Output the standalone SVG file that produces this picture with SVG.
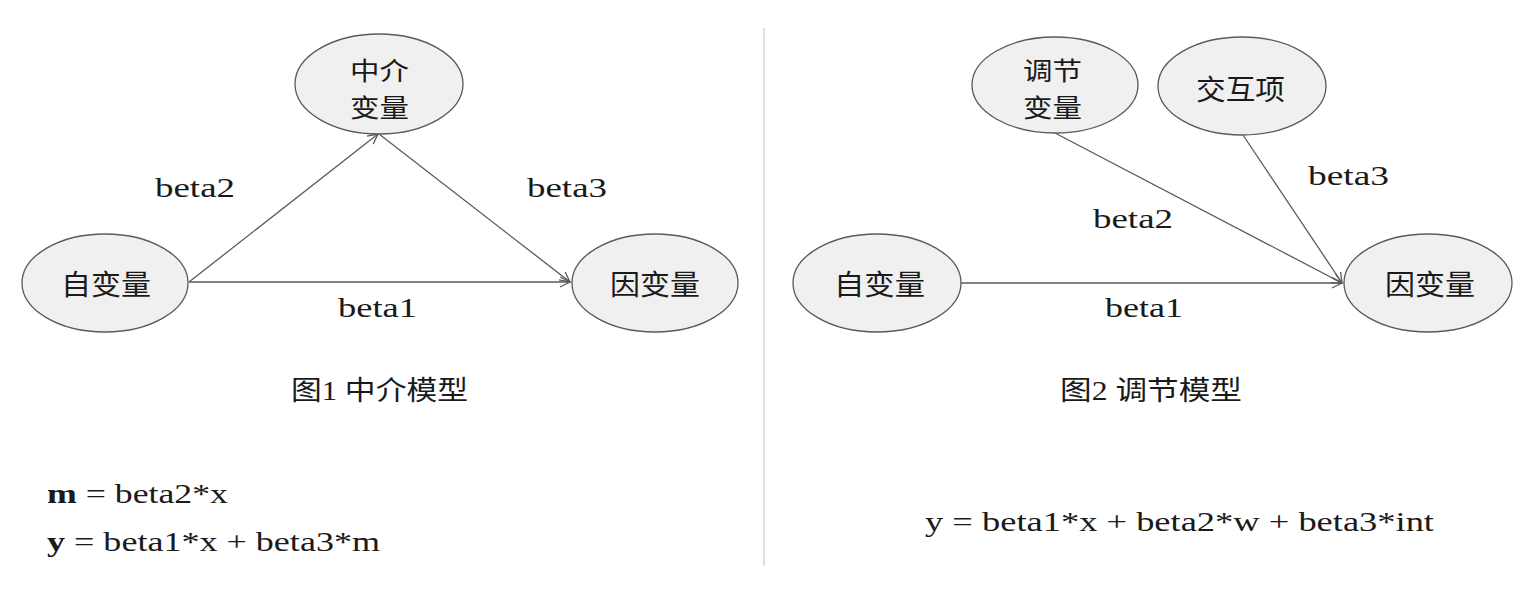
<svg xmlns="http://www.w3.org/2000/svg" width="1534" height="602" viewBox="0 0 1534 602">
<style>
.node ellipse{fill:#f0f0f0;stroke:#5a5a5a;stroke-width:1.3}
.cn{font-family:"Noto Sans CJK SC","Liberation Serif",sans-serif;font-size:28px;fill:#1a1a1a}
.cn2{font-family:"Noto Sans CJK SC","Liberation Serif",sans-serif;font-size:25px;fill:#1a1a1a}
.lbl{font-family:"Liberation Serif","Noto Sans CJK SC",serif;font-size:28px;fill:#1a1a1a}
.cap{font-family:"Liberation Serif","Noto Sans CJK SC",serif;font-size:27px;fill:#1a1a1a}
.edge{stroke:#5a5a5a;stroke-width:1.3;fill:none;marker-end:url(#arr)}
</style>
<defs>
<marker id="arr" markerUnits="userSpaceOnUse" markerWidth="14" markerHeight="14" refX="11" refY="6" orient="auto">
<path d="M1,1 L11,6 L1,11" fill="none" stroke="#5a5a5a" stroke-width="1.3"/>
</marker>
</defs>
<rect width="1534" height="602" fill="#ffffff"/>
<line x1="764" y1="28" x2="764" y2="566" stroke="#c0c0c0" stroke-width="1"/>
<g id="connectors">
<line class="edge" x1="189" y1="282" x2="378" y2="134"/>
<line class="edge" x1="379" y1="134" x2="570" y2="282"/>
<line class="edge" x1="189" y1="282" x2="570" y2="282"/>
<line class="edge" x1="961" y1="283" x2="1342" y2="283"/>
<line class="edge" x1="1055" y1="133" x2="1342" y2="283"/>
<line class="edge" x1="1243" y1="135" x2="1342" y2="283"/>
</g>
<g id="n-left-x" class="node"><ellipse cx="105" cy="283" rx="83" ry="49"/><text class="cn" x="61" y="295" textLength="90" lengthAdjust="spacingAndGlyphs">自变量</text></g>
<g id="n-mediator" class="node"><ellipse cx="379" cy="84" rx="84" ry="50"/><text class="cn2" x="350" y="80" textLength="59" lengthAdjust="spacingAndGlyphs">中介</text><text class="cn2" x="350" y="117" textLength="59" lengthAdjust="spacingAndGlyphs">变量</text></g>
<g id="n-left-y" class="node"><ellipse cx="655" cy="283" rx="83" ry="49"/><text class="cn" x="610" y="295" textLength="90" lengthAdjust="spacingAndGlyphs">因变量</text></g>
<g id="n-moderator" class="node"><ellipse cx="1055" cy="85" rx="83" ry="48"/><text class="cn2" x="1023" y="80" textLength="59" lengthAdjust="spacingAndGlyphs">调节</text><text class="cn2" x="1023" y="117" textLength="59" lengthAdjust="spacingAndGlyphs">变量</text></g>
<g id="n-interaction" class="node"><ellipse cx="1242" cy="86" rx="84" ry="49"/><text class="cn" x="1196" y="100" textLength="89" lengthAdjust="spacingAndGlyphs">交互项</text></g>
<g id="n-right-x" class="node"><ellipse cx="877" cy="283" rx="84" ry="49"/><text class="cn" x="834" y="295" textLength="91" lengthAdjust="spacingAndGlyphs">自变量</text></g>
<g id="n-right-y" class="node"><ellipse cx="1428" cy="283" rx="84" ry="49"/><text class="cn" x="1385" y="295" textLength="90" lengthAdjust="spacingAndGlyphs">因变量</text></g>
<g id="labels">
<text class="lbl" x="155" y="197" textLength="80" lengthAdjust="spacingAndGlyphs">beta2</text>
<text class="lbl" x="527" y="197" textLength="80" lengthAdjust="spacingAndGlyphs">beta3</text>
<text class="lbl" x="338" y="317" textLength="79" lengthAdjust="spacingAndGlyphs">beta1</text>
<text class="lbl" x="1308" y="185" textLength="81" lengthAdjust="spacingAndGlyphs">beta3</text>
<text class="lbl" x="1093" y="228" textLength="80" lengthAdjust="spacingAndGlyphs">beta2</text>
<text class="lbl" x="1105" y="317" textLength="78" lengthAdjust="spacingAndGlyphs">beta1</text>
</g>
<g id="captions">
<text class="cap" x="291" y="400" textLength="177" lengthAdjust="spacingAndGlyphs">图1 中介模型</text>
<text class="cap" x="1060" y="400" textLength="182" lengthAdjust="spacingAndGlyphs">图2 调节模型</text>
<text class="lbl" x="47" y="503" textLength="181" lengthAdjust="spacingAndGlyphs"><tspan font-weight="bold">m</tspan> = beta2*x</text>
<text class="lbl" x="47" y="551" textLength="333" lengthAdjust="spacingAndGlyphs"><tspan font-weight="bold">y</tspan> = beta1*x + beta3*m</text>
<text class="lbl" x="925" y="531" textLength="509" lengthAdjust="spacingAndGlyphs">y = beta1*x + beta2*w + beta3*int</text>
</g>
</svg>
